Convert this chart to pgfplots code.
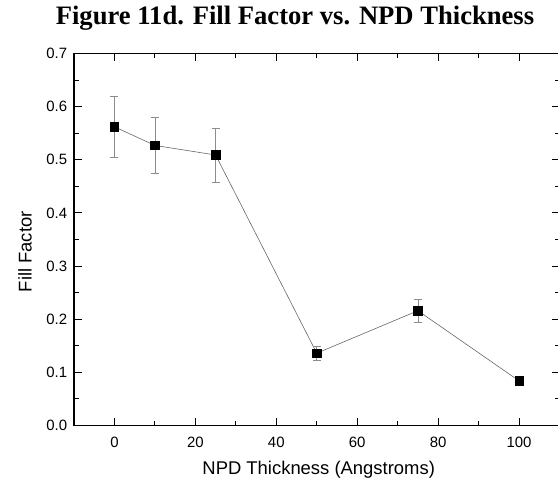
\documentclass[border=0pt]{standalone}
\usepackage{pgfplots}
\pgfplotsset{compat=1.18}
\usepackage{fontspec}
\setmainfont{Liberation Sans}
\newfontfamily\titlefont{Liberation Serif}
\begin{document}
\begin{tikzpicture}[x=1bp,y=1bp]
\useasboundingbox (0,0) rectangle (558,480);
\node[font=\titlefont\bfseries\fontsize{26.7}{30}\selectfont, anchor=base, inner sep=0pt] at (295,455) {Figure 11d. Fill Factor vs. NPD Thickness};
\begin{axis}[
  at={(74bp,54.5bp)}, anchor=south west,
  scale only axis, width=485.5bp, height=372bp,
  xmin=-10, xmax=110, ymin=0, ymax=0.7,
  xtick={0,20,...,100}, minor xtick={-10,10,30,50,70,90,110},
  ytick={0,0.1,...,0.7}, minor ytick={0.05,0.15,...,0.65},
  tick align=inside,
  major tick length=7.5bp, minor tick length=4.5bp,
  every tick/.style={black, line width=0.9pt},
  axis line style={line width=1.2pt},
  tick label style={font=\fontsize{15}{17}\selectfont, inner sep=0pt},
  /pgf/number format/assume math mode=true,
  yticklabel style={xshift=-6.6bp, /pgf/number format/.cd, fixed, fixed zerofill, precision=1},
  xticklabel style={yshift=-11bp, /pgf/number format/.cd, fixed},
  xlabel={NPD Thickness (Angstroms)},
  ylabel={Fill Factor},
  label style={font=\fontsize{18.5}{21}\selectfont, inner sep=0pt},
  xlabel style={at={(axis description cs:0.504,-0.133)}, anchor=base},
  ylabel style={at={(axis description cs:-0.101,0.467)}, anchor=center},
  clip=false,
]
\addplot[gray!80!black, line width=0.6pt,
  mark=square*, mark size=4.2bp, mark options={black, solid},
  error bars/.cd, y dir=both, y explicit,
  error bar style={gray!90, line width=0.7pt},
  error mark options={rotate=90, mark size=4bp, gray!90, line width=0.7pt}]
coordinates {
  (0,0.562) +- (0,0.057)
  (10,0.527) +- (0,0.053)
  (25,0.509) +- (0,0.051)
  (50,0.136) +- (0,0.013)
  (75,0.216) +- (0,0.022)
  (100,0.084) +- (0,0.004)
};
\end{axis}
\end{tikzpicture}
\end{document}
